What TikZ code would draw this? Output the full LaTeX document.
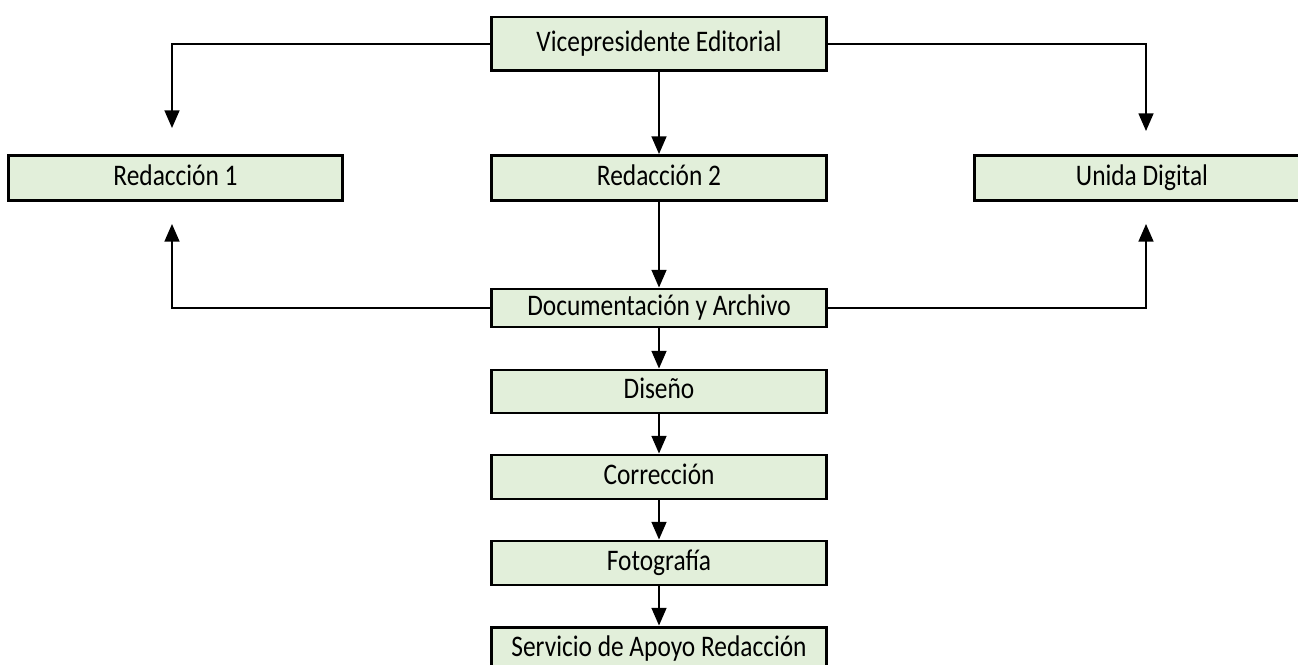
\documentclass[tikz,border=0pt]{standalone}
\usepackage{fontspec}
\setmainfont[FakeStretch=0.85]{Carlito}
\usetikzlibrary{arrows.meta,calc}

\definecolor{verdeClaro}{HTML}{E2EFDA}

\begin{document}
\begin{tikzpicture}[x=0.02cm,y=-0.02cm,
    caja/.style={draw, line width=1.7pt, fill=verdeClaro, minimum width=6.7cm,
      inner sep=0pt, text height=0.92em, text depth=0.1em,
      font=\fontsize{17}{20}\selectfont},
    flecha/.style={line width=0.8pt, -{Triangle[width=8.5pt,length=10pt]}}]
  \clip (0,0) rectangle (1298,665);
  % \draw[step=100,thin,gray!40] (0,0) grid (1298,665);

  \node[caja, minimum height=1.08cm] (vicepresNode) at (659,44)  {Vicepresidente Editorial};
  \node[caja, minimum height=0.9cm]  (redaccionANode) at (175.5,178) {Redacción 1};
  \node[caja, minimum height=0.9cm]  (redaccionBNode) at (659,178)   {Redacción 2};
  \node[caja, minimum height=0.9cm]  (digitalNode)    at (1142,178)  {Unida Digital};
  \node[caja, minimum height=0.76cm] (docNode)  at (659,308)   {Documentación y Archivo};
  \node[caja, minimum height=0.86cm] (disenoNode) at (659,391.5) {Diseño};
  \node[caja, minimum height=0.88cm] (correcNode) at (659,477)   {Corrección};
  \node[caja, minimum height=0.88cm] (fotoNode)   at (659,563)   {Fotografía};
  \node[caja, minimum height=0.88cm] (servNode)   at (659,649)   {Servicio de Apoyo Redacción};

  \coordinate (izqArriba) at (172,128);
  \coordinate (derArriba) at (1146,131);
  \coordinate (izqAbajo)  at (172,224);
  \coordinate (derAbajo)  at (1146,224);

  \draw[flecha] (vicepresNode.west) -| (izqArriba);
  \draw[flecha] (vicepresNode.east) -| (derArriba);
  \draw[flecha] (vicepresNode) -- (redaccionBNode);
  \draw[flecha] (redaccionBNode) -- (docNode);
  \draw[flecha] (docNode.west) -| (izqAbajo);
  \draw[flecha] (docNode.east) -| (derAbajo);

  \draw[flecha] (docNode) -- (disenoNode);
  \draw[flecha] (disenoNode) -- (correcNode);
  \draw[flecha] (correcNode) -- (fotoNode);
  \draw[flecha] (fotoNode) -- (servNode);
\end{tikzpicture}
\end{document}
